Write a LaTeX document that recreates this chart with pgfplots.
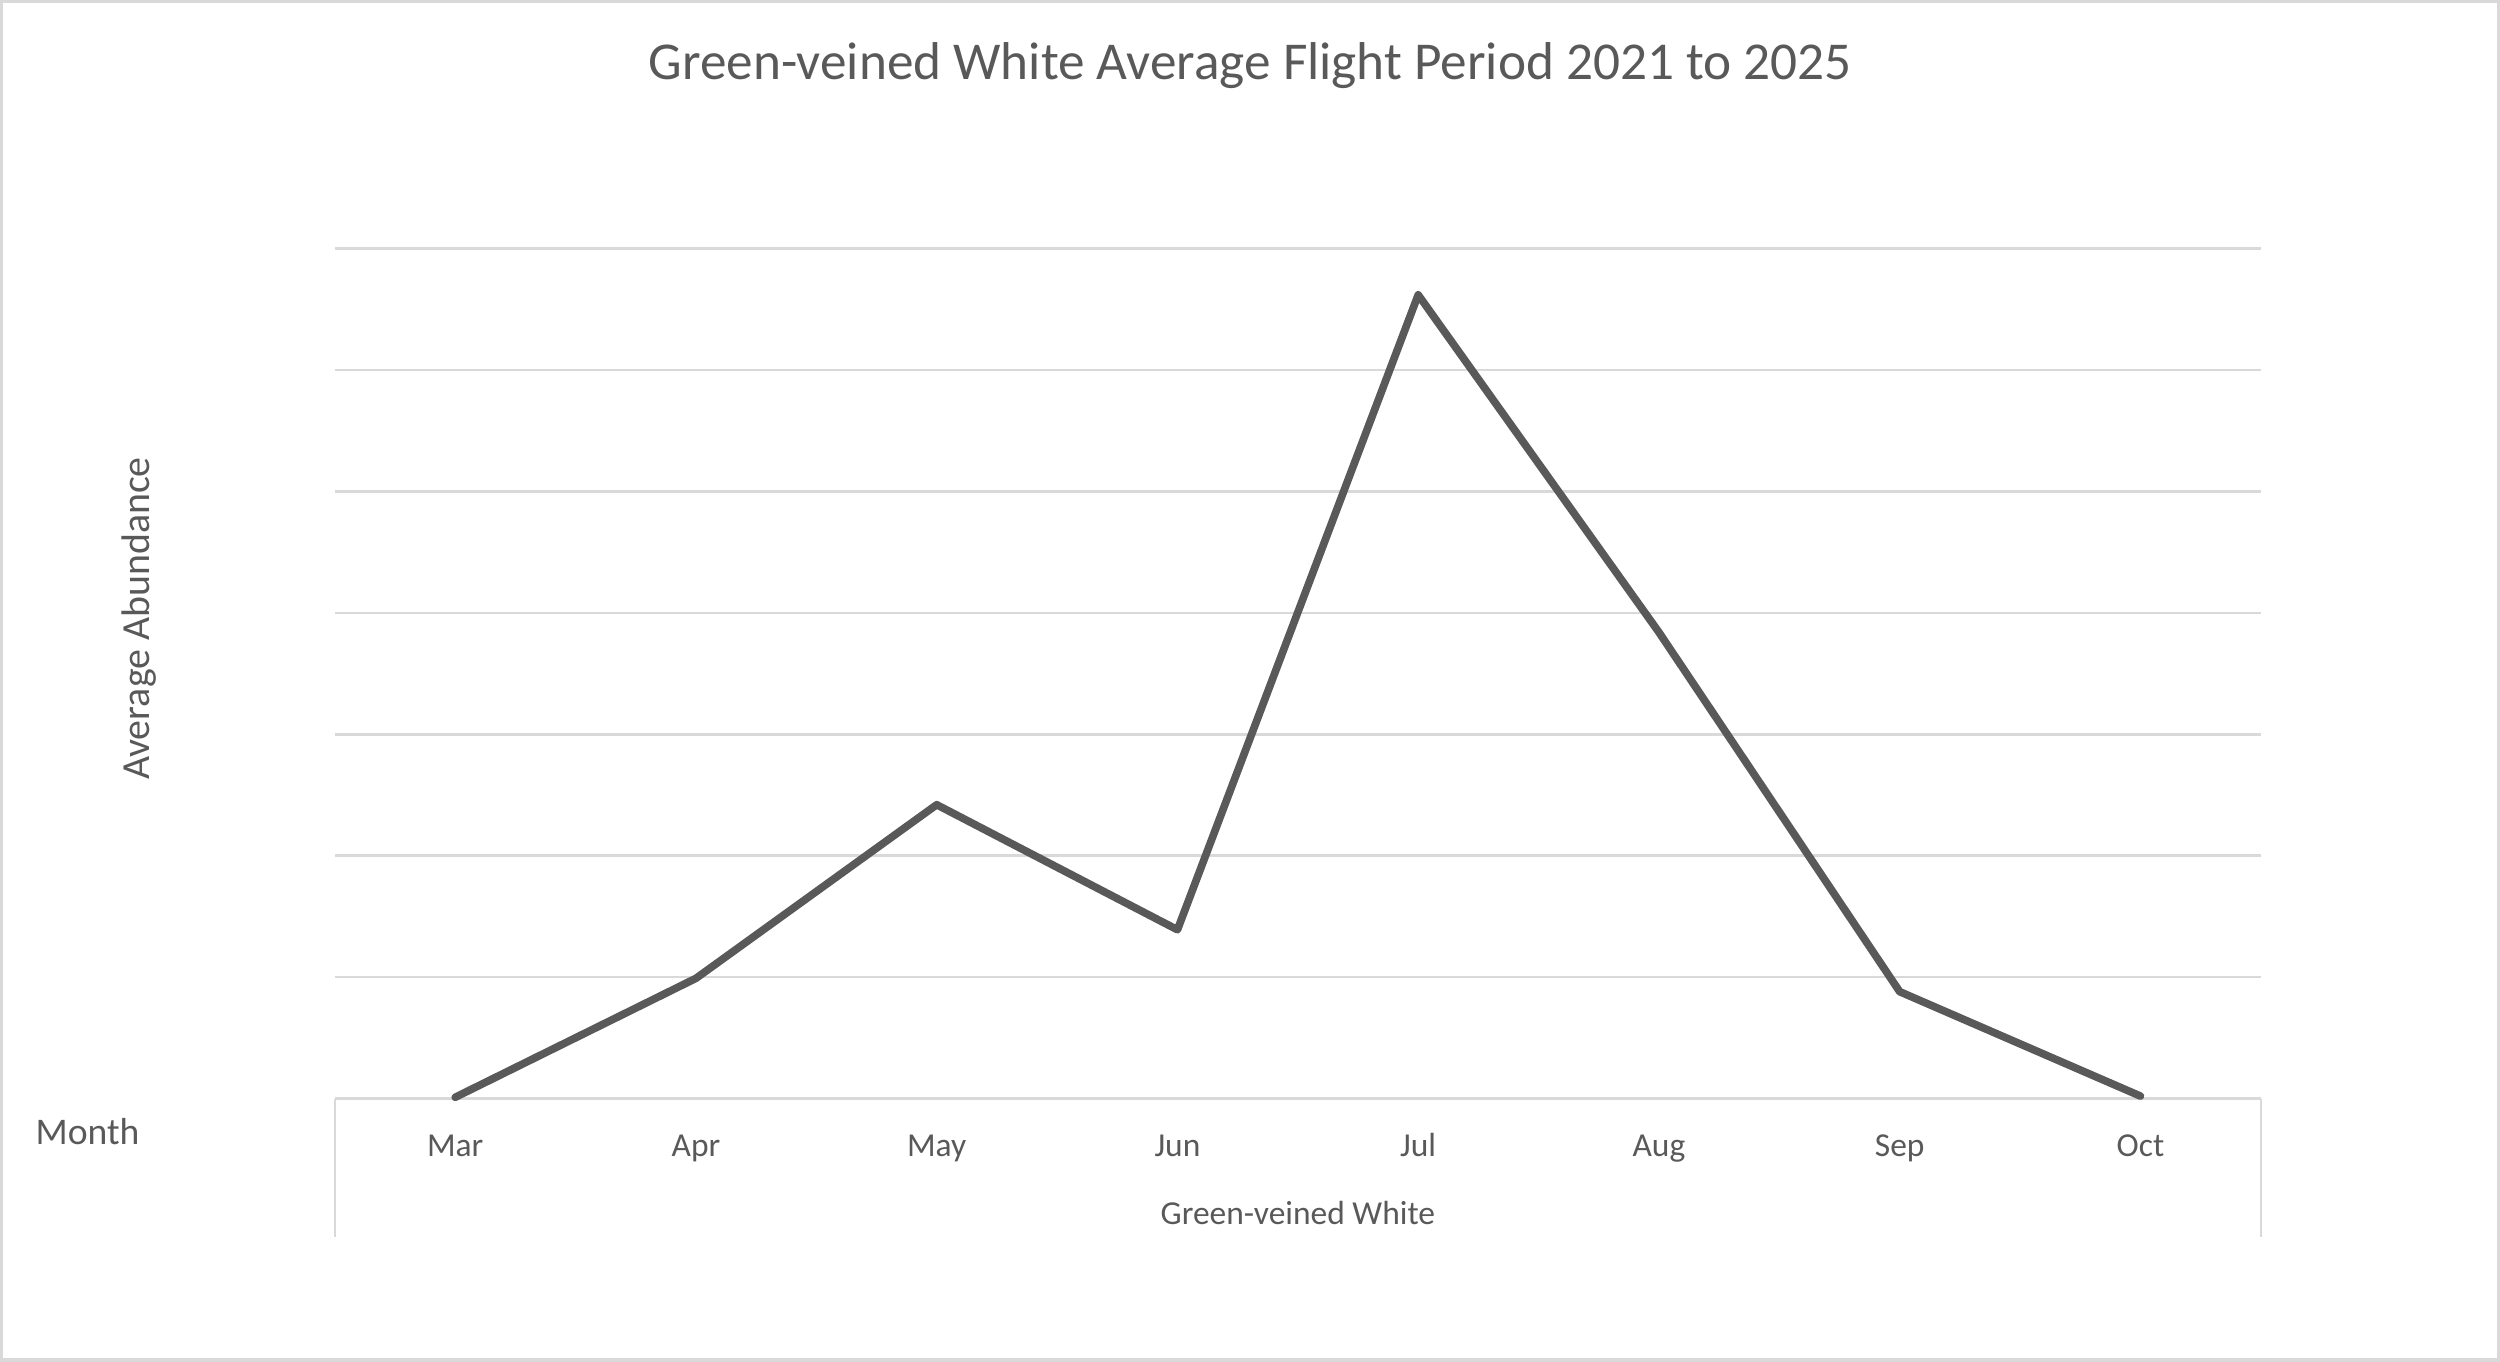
\documentclass[border=0pt]{standalone}
\usepackage{pgfplots}
\pgfplotsset{compat=1.18}
\usepackage{fontspec}
\setmainfont{Carlito}
\definecolor{txt}{HTML}{595959}
\definecolor{grd}{HTML}{D9D9D9}
\begin{document}
\begin{tikzpicture}[x=1pt,y=1pt]
\draw[grd, line width=1pt] (0.5,0.5) rectangle (783.5,426.5);
\begin{axis}[
  at={(105pt,82.5pt)}, anchor=south west,
  width=604pt, height=266.5pt, scale only axis,
  xmin=-0.5, xmax=7.5, ymin=0, ymax=7,
  xtick={0,...,7},
  xticklabels={Mar,Apr,May,Jun,Jul,Aug,Sep,Oct},
  ytick={0,...,7}, yticklabels={},
  ymajorgrids, major grid style={grd, line width=0.8pt},
  axis line style={draw=none},
  major tick length=0pt,
  xticklabel style={anchor=base, yshift=-18.3pt, font=\fontsize{10.5}{12}\selectfont, text=txt},
  clip=false,
]
\addplot[color=txt, line width=2.4pt, line join=round, line cap=round] coordinates {
(0,0.01) (1,0.99) (2,2.42) (3,1.39) (4,6.62) (5,3.84) (6,0.88) (7,0.02)
};
\end{axis}
\draw[grd, line width=0.8pt] (105,82.5) -- (105,39);
\draw[grd, line width=0.8pt] (709,82.5) -- (709,39);
\node[text=txt, font=\fontsize{16.7}{19}\selectfont] at (392,406.5) {Green-veined White Average Flight Period 2021 to 2025};
\node[text=txt, font=\fontsize{11.8}{15}\selectfont, anchor=west, inner sep=0pt] at (11,72) {Month};
\node[text=txt, font=\fontsize{12.5}{15}\selectfont, rotate=90] at (43.5,233) {Average Abundance};
\node[text=txt, font=\fontsize{10.5}{12}\selectfont] at (407,46.5) {Green-veined White};
\end{tikzpicture}
\end{document}
